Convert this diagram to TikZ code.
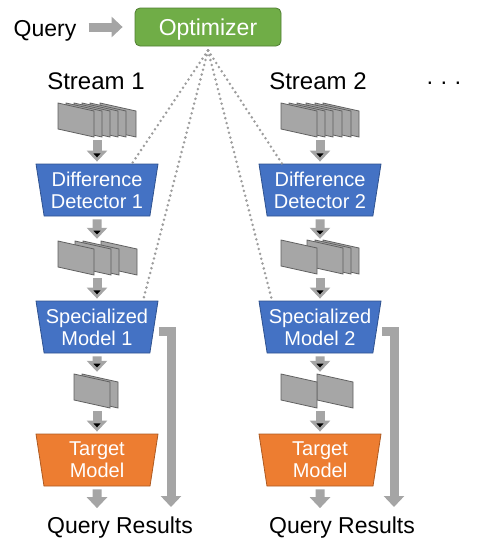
\documentclass[tikz,border=0pt]{standalone}
\usepackage{fontspec}
\setmainfont{Liberation Sans}
\usetikzlibrary{positioning, arrows.meta, shapes.geometric}
\definecolor{optgreen}{HTML}{70AD47}
\definecolor{optgreenline}{HTML}{507E32}
\definecolor{modelblue}{HTML}{4472C4}
\definecolor{modelblueline}{HTML}{2F528F}
\definecolor{targetorange}{HTML}{ED7D31}
\definecolor{targetorangeline}{HTML}{AE5A21}
\definecolor{flowgray}{HTML}{A5A5A5}
\definecolor{framegray}{HTML}{A6A6A6}
\definecolor{frameline}{HTML}{5F5F5F}
\newcommand{\framestack}[3]{%
    \foreach \dx in {#3}
        \draw[vframe] (#1+\dx,#2) -- ++(36,8) -- ++(0,26) -- ++(-36,-8) -- cycle;}

\begin{document}
\begin{tikzpicture}[x=1pt, y=-1pt,
                model/.style={trapezium, trapezium left angle=77.5, trapezium right angle=77.5,
                    shape border rotate=180, trapezium stretches body, minimum width=122pt,
                    minimum height=52pt, inner sep=0pt, align=center, text=white,
                    font=\fontsize{20}{22}\selectfont, line width=0.8pt},
                blue model/.style={model, fill=modelblue, draw=modelblueline},
                target model/.style={model, fill=targetorange, draw=targetorangeline},
                txt/.style={inner sep=0pt, anchor=base, font=\fontsize{23}{26}\selectfont},
                flow/.style={draw=flowgray, line width=9pt, -{Triangle[width=20pt, length=11pt]},
                    shorten <=3pt, shorten >=2pt},
                ctrl line/.style={draw=flowgray!95!black, line width=2.8pt, line cap=round, dash pattern=on 0pt off 5pt},
                stackbox/.style={minimum width=80pt, minimum height=34pt, inner sep=0pt},
                vframe/.style={fill=framegray, draw=frameline, line width=0.8pt}]
                \useasboundingbox (0,0) rectangle (481,546);
                \node[txt] (query) at (45,36) {Query};
                \node[draw=optgreenline, fill=optgreen, rounded corners=5pt, line width=0.8pt,
                    minimum width=146pt, minimum height=38pt, inner sep=0pt, text=white,
                    text height=16.5pt, text depth=0pt,
                    font=\fontsize{23}{26}\selectfont] (opt) at (208,27) {Optimizer};
                \draw[flow, shorten <=12pt, shorten >=12pt] (query.east |- opt) -- (opt);
                \node[txt, font=\fontsize{24}{26}\selectfont] (st1) at (96,89) {Stream 1};
                \node[txt, font=\fontsize{24}{26}\selectfont] (st2) at (318,89) {Stream 2};
                \node[txt] (more) at (444,89) {· · ·};

                % stream 1
                \node[stackbox] (f1a) at (97,120) {};
                \framestack{58}{103}{42,32,24,16,8,0}
                \node[blue model] (dd1) at (97,190) {Difference\\Detector 1};
                \node[stackbox] (f1b) at (97,258) {};
                \framestack{58}{241}{43,25,17,0}
                \node[blue model] (sm1) at (97,327) {Specialized\\Model 1};
                \node[stackbox] (f1c) at (97,391) {};
                \framestack{74}{374}{8,0}
                \node[target model] (tm1) at (97,460) {Target\\Model};
                \node[txt] (qr1) at (120,533) {Query Results};
                \coordinate (r1) at (171,507);

                % stream 2
                \node[stackbox] (f2a) at (320,120) {};
                \framestack{281}{103}{42,34,25,16,8,0}
                \node[blue model] (dd2) at (320,190) {Difference\\Detector 2};
                \node[stackbox] (f2b) at (320,258) {};
                \framestack{281}{240}{42,34,26,0}
                \node[blue model] (sm2) at (320,327) {Specialized\\Model 2};
                \node[stackbox] (f2c) at (320,391) {};
                \framestack{281}{374}{36,0}
                \node[target model] (tm2) at (320,460) {Target\\Model};
                \node[txt] (qr2) at (342,533) {Query Results};
                \coordinate (r2) at (394,507);

                \draw[flow]
                    (f1a) edge (dd1)
                    (dd1) edge (f1b)
                    (f1b) edge (sm1)
                    (sm1) edge (f1c)
                    (f1c) edge (tm1)
                    (f2a) edge (dd2)
                    (dd2) edge (f2b)
                    (f2b) edge (sm2)
                    (sm2) edge (f2c)
                    (f2c) edge (tm2);
                \draw[flow, shorten >=8pt] (tm1) -- (tm1 |- qr1.north);
                \draw[flow, shorten >=8pt] (tm2) -- (tm2 |- qr2.north);
                \draw[flow, shorten <=0pt, shorten >=0pt] ([shift={(5,4)}]sm1.east) -| (r1);
                \draw[flow, shorten <=0pt, shorten >=0pt] ([shift={(5,4)}]sm2.east) -| (r2);

                \draw[ctrl line] ([yshift=-4pt]opt.south) -- ([xshift=35pt]dd1.north);
                \draw[ctrl line] ([yshift=-4pt]opt.south) -- ([xshift=46pt]sm1.north);
                \draw[ctrl line] ([yshift=-4pt]opt.south) -- ([xshift=-38pt]dd2.north);
                \draw[ctrl line] ([yshift=-4pt]opt.south) -- ([xshift=-48pt]sm2.north);
            \end{tikzpicture}
\end{document}
